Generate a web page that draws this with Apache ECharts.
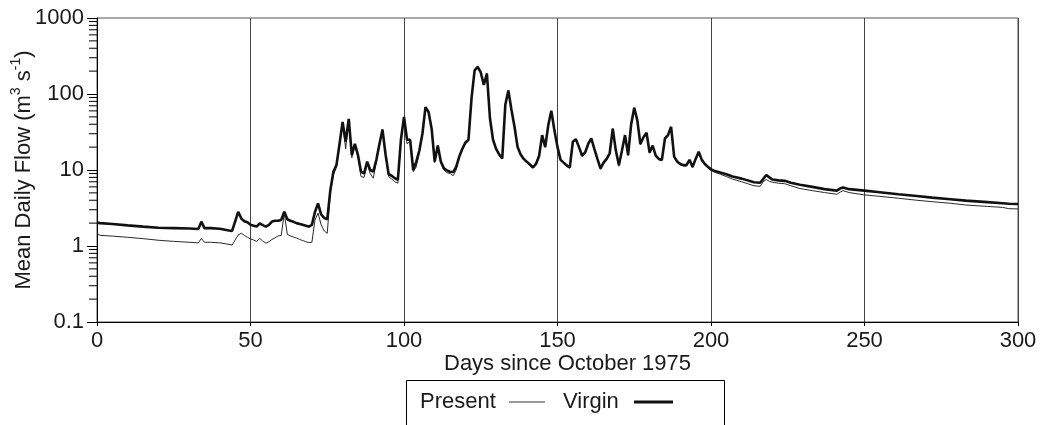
<!DOCTYPE html>
<html>
<head>
<meta charset="utf-8">
<script src="https://cdn.jsdelivr.net/npm/echarts@6/dist/echarts.min.js"></script>
<style>
html,body{margin:0;padding:0;background:#fff;}
#chart{width:1046px;height:425px;}
</style>
</head>
<body>
<div id="chart"></div>
<script>
// ---- data ----
const days = [
  0,1,5,10,15,20,25,30,33,34,
  35,37,40,43,44,45,46,47,48,49,
  50,51,52,53,54,55,56,57,58,59,
  60,61,62,63,64,65,66,67,68,69,
  70,71,72,73,74,75,76,77,78,79,
  80,81,82,83,84,85,86,87,88,89,
  90,91,92,93,94,95,96,97,98,99,
  100,101,102,103,104,105,106,107,108,109,
  110,111,112,113,114,115,116,117,118,119,
  120,121,122,123,124,125,126,127,128,129,
  130,131,132,133,134,135,136,137,138,139,
  140,141,142,143,144,145,146,147,148,149,
  150,151,152,153,154,155,156,157,158,159,
  160,161,162,163,164,165,166,167,168,169,
  170,171,172,173,174,175,176,177,178,179,
  180,181,182,183,184,185,186,187,188,189,
  190,191,192,193,194,195,196,197,198,199,
  200,201,203,205,207,210,214,216,217,218,
  219,220,222,224,226,229,233,237,241,242,
  243,245,250,255,261,267,272,278,283,290,
  295,297,300
];
const virgin = [
  2.03,2.00,1.95,1.87,1.80,1.74,1.72,1.70,1.67,2.09,
  1.72,1.72,1.69,1.60,1.58,2.10,2.82,2.30,2.12,2.05,
  1.90,1.85,1.80,1.99,1.88,1.80,1.90,2.10,2.15,2.15,
  2.20,2.82,2.25,2.15,2.08,2.00,1.95,1.90,1.85,1.80,
  1.90,2.80,3.64,2.60,2.35,2.24,5.4,9.5,11.6,22,
  43,23.6,47,15.8,22,15.8,9.5,9.0,12.9,10,
  9.5,13.6,22,34,16,8.8,8.4,7.8,7.4,25,
  50,25,25,10,12.9,18,30,67,58,35,
  12.9,21,12.9,10.5,9.9,9.5,9.4,11,15,19,
  23,25,88,205,228,192,132,186,48,25,
  19,16,14.2,72,111,62,37,20,16,14,
  12.8,11.8,10.8,12,15.3,28.8,20,39,60,33,
  20,13.6,12.5,11.5,10.8,23.6,25.4,20,15.5,17,
  22,26,19,14,10.5,12.5,14,16.6,35,18,
  11.6,18,28.8,15.8,40,66,45,22,27,31,
  17,21,15.5,14,13.6,26,28.8,37,15,12.9,
  12,11.6,11.6,13.6,11,14,17.4,13.6,12,11,
  10.2,9.8,9.3,8.8,8.2,7.7,6.9,6.8,7.6,8.6,
  8.0,7.5,7.3,7.2,6.8,6.4,6.0,5.6,5.35,5.7,
  5.9,5.6,5.35,5.1,4.8,4.55,4.33,4.12,3.95,3.78,
  3.65,3.6,3.57
];
const present = [
  1.47,1.38,1.35,1.30,1.25,1.19,1.15,1.12,1.10,1.26,
  1.12,1.12,1.10,1.05,1.03,1.20,1.40,1.47,1.38,1.30,
  1.24,1.20,1.15,1.26,1.16,1.09,1.14,1.22,1.28,1.36,
  1.37,2.69,1.42,1.36,1.31,1.27,1.22,1.18,1.14,1.11,
  1.12,2.20,2.71,1.90,1.58,1.47,5.0,8.6,11.0,21,
  40,19,45,14.5,21,15,8.2,8.0,12,9,
  7.8,13,21,34,15,8.2,7.6,7.0,6.7,24,
  50,22,24,9.5,11,17,30,67,58,35,
  12.5,20,12.5,10,9.2,9.0,8.4,10,14.5,18.5,
  22,24,88,205,228,192,132,186,48,25,
  19,16,14,72,111,62,37,20,16,14,
  12.6,11.6,10.6,12,15,28,20,38,60,33,
  20,13.4,12.2,11.2,10.5,22.5,25,19.5,15,16.5,
  21.5,26,18.5,13.6,10.2,12,13.6,16,35,17.5,
  11.2,17.5,28,15.3,39,66,44,21.5,26.5,30,
  16.6,20.5,15,13.6,13.2,25,28,36,14.6,12.5,
  11.7,11.3,11.3,13.2,10.7,13.6,16.8,13.2,11.6,10.6,
  9.9,9.4,8.8,8.2,7.6,7.0,6.2,6.1,7.0,7.5,
  7.1,6.9,6.7,6.6,6.2,5.7,5.35,5.05,4.8,5.1,
  5.35,5.05,4.7,4.5,4.25,4.0,3.83,3.65,3.46,3.32,
  3.22,3.1,3.07
];
const yTickLabels = ['0.1','1','10','100','1000'];
const yMinorTicks = [
  0.2,0.3,0.4,0.5,0.6,0.7,0.8,0.9,
  2,3,4,5,6,7,8,9,
  20,30,40,50,60,70,80,90,
  200,300,400,500,600,700,800,900
];
const seriesNames = ['Present','Virgin'];

// ---- chart ----
const FONT = '"Liberation Sans", Arial, Helvetica, sans-serif';
const chart = echarts.init(document.getElementById('chart'), null, {renderer:'canvas'});
const pair = arr => days.map((d,i)=>[d, arr[i]]);

chart.setOption({
  animation:false,
  backgroundColor:'#fff',
  textStyle:{fontFamily:FONT},
  grid:{left:97,right:28,top:18,bottom:103,containLabel:false,outerBoundsMode:'none',
    show:true,borderColor:'#555',borderWidth:1,backgroundColor:'transparent'},
  xAxis:{
    type:'value',min:0,max:300,interval:50,
    name:'Days since October 1975',nameLocation:'middle',nameGap:31,nameMoveOverlap:false,
    nameTextStyle:{fontSize:22,color:'#1a1a1a',fontFamily:FONT,padding:[0,0,0,20]},
    axisLine:{lineStyle:{color:'#000',width:1}},
    axisTick:{show:true,length:4,lineStyle:{color:'#000'}},
    axisLabel:{fontSize:22,color:'#1a1a1a',margin:8,fontFamily:FONT},
    splitLine:{show:true,lineStyle:{color:'#444',width:1}}
  },
  yAxis:{
    type:'log',logBase:10,min:0.1,max:1000,
    name:'Mean Daily Flow (m{sup|3} s{sup|-1})',nameLocation:'middle',nameGap:58,nameMoveOverlap:false,
    nameTextStyle:{fontSize:22,color:'#1a1a1a',fontFamily:FONT,lineHeight:30,
      rich:{sup:{fontSize:14,lineHeight:14,verticalAlign:'top',color:'#1a1a1a',fontFamily:FONT}}},
    axisLine:{show:true,lineStyle:{color:'#000',width:1}},
    axisTick:{show:true,length:10,lineStyle:{color:'#000'}},
    axisLabel:{fontSize:22,color:'#1a1a1a',margin:13,fontFamily:FONT,
      formatter:v=>yTickLabels[Math.round(Math.log10(v))+1]},
    splitLine:{show:false}
  },
  series:[
    {
      name:seriesNames[0],type:'line',data:pair(present),showSymbol:false,symbol:'none',
      lineStyle:{color:'#2a2a2a',width:1},z:3
    },
    {
      name:seriesNames[1],type:'line',data:pair(virgin),showSymbol:false,symbol:'none',
      lineStyle:{color:'#111',width:2.6},z:4
    },
    {
      type:'custom',silent:true,clip:false,
      data:yMinorTicks.map(v=>[0,v]),
      renderItem:(params,api)=>{
        const p = api.coord([0, api.value(1)]);
        return {type:'line',shape:{x1:p[0]-8,y1:p[1],x2:p[0],y2:p[1]},style:{stroke:'#000',lineWidth:1}};
      },
      z:5
    }
  ],
  graphic:[
    {type:'rect',shape:{x:406.5,y:380.5,width:318,height:60},style:{fill:'#fff',stroke:'#000',lineWidth:1},z:10},
    {type:'text',x:420,y:402,style:{text:seriesNames[0],font:'22px '+FONT,fill:'#1a1a1a',textVerticalAlign:'middle'},z:11},
    {type:'line',shape:{x1:509,y1:402,x2:545,y2:402},style:{stroke:'#333',lineWidth:1},z:11},
    {type:'text',x:563,y:402,style:{text:seriesNames[1],font:'22px '+FONT,fill:'#1a1a1a',textVerticalAlign:'middle'},z:11},
    {type:'line',shape:{x1:634,y1:402,x2:673,y2:402},style:{stroke:'#111',lineWidth:3},z:11}
  ]
});
</script>
</body>
</html>
